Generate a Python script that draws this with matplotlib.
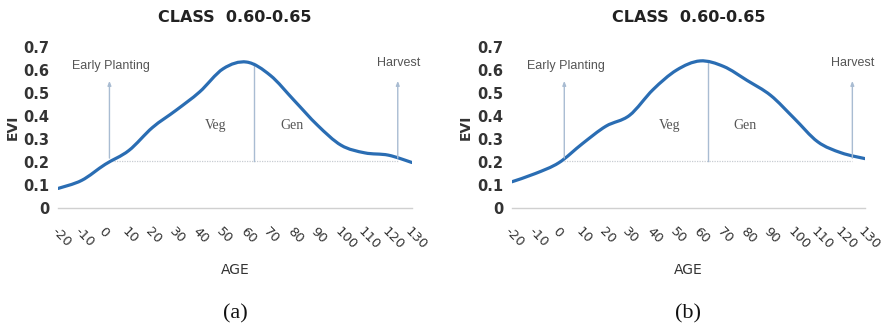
import numpy as np
import matplotlib.pyplot as plt
from matplotlib.path import Path
from matplotlib.patches import PathPatch

age = [-20, -10, 0, 10, 20, 30, 40, 50, 60, 70, 80, 90, 100, 110, 120, 130]
evi_a = [0.085, 0.12, 0.19, 0.25, 0.35, 0.425, 0.505, 0.606, 0.635, 0.577,
         0.469, 0.36, 0.273, 0.24, 0.23, 0.198]
evi_b = [0.114, 0.15, 0.197, 0.28, 0.356, 0.403, 0.515, 0.60, 0.64, 0.616,
         0.555, 0.49, 0.39, 0.288, 0.24, 0.215]
yticks = [0, 0.1, 0.2, 0.3, 0.4, 0.5, 0.6, 0.7]
ytick_labels = ['0', '0.1', '0.2', '0.3', '0.4', '0.5', '0.6', '0.7']

panels = ['(a)', '(b)']
title = 'CLASS  0.60-0.65'
planting_x = [1.8, 2.3]
harvest_x = [124, 124.7]
split_x = [63, 63.4]
base_y = 0.205
stage_y = 0.36
label_y = 0.62

blue = '#2a6db3'
guide = '#a9bcd2'


def smooth_path(x, y, t=0.5):
    # Excel style smoothed line: cubic bezier through every point
    x = np.asarray(x, float)
    y = np.asarray(y, float)
    px = np.concatenate([[x[0]], x, [x[-1]]])
    py = np.concatenate([[y[0]], y, [y[-1]]])
    verts = [(x[0], y[0])]
    codes = [Path.MOVETO]
    for i in range(1, len(x)):
        c1 = (px[i] + (px[i + 1] - px[i - 1]) * t / 3, py[i] + (py[i + 1] - py[i - 1]) * t / 3)
        c2 = (px[i + 1] - (px[i + 2] - px[i]) * t / 3, py[i + 1] - (py[i + 2] - py[i]) * t / 3)
        verts += [c1, c2, (x[i], y[i])]
        codes += [Path.CURVE4] * 3
    return Path(verts, codes)


fig = plt.figure(figsize=(8.87, 3.31), dpi=100)
boxes = [[0.0654, 0.3716, 0.399, 0.486], [0.577, 0.3716, 0.398, 0.486]]

for k, evi in enumerate([evi_a, evi_b]):
    ax = fig.add_axes(boxes[k])
    ax.add_patch(PathPatch(smooth_path(age, evi), facecolor='none', edgecolor=blue,
                           lw=2.3, capstyle='round', zorder=3))
    ax.set_xlim(-20, 130)
    ax.set_ylim(0, 0.7)

    # guides
    ax.plot([planting_x[k], harvest_x[k]], [base_y, base_y], color='#c8ccd2', lw=0.9,
            ls=(0, (1, 1)), zorder=1)
    ax.plot([split_x[k], split_x[k]], [base_y, max(evi) - 0.003], color=guide, lw=1.0, zorder=2)
    for xx in [planting_x[k], harvest_x[k]]:
        ax.annotate('', xy=(xx, 0.565), xytext=(xx, base_y),
                    arrowprops=dict(arrowstyle='-|>,head_length=0.25,head_width=0.1',
                                    color=guide, lw=1.0))
    ax.text(planting_x[k] + 0.5, label_y, 'Early Planting', ha='center', va='center',
            fontsize=9, color='#555555', family='Liberation Sans')
    ax.text(harvest_x[k] + 0.3, label_y + 0.01, 'Harvest', ha='center', va='center',
            fontsize=9, color='#555555', family='Liberation Sans')
    ax.text(47, stage_y, 'Veg', ha='center', va='center', fontsize=10,
            color='#555555', family='Liberation Serif')
    ax.text(79, stage_y, 'Gen', ha='center', va='center', fontsize=10,
            color='#555555', family='Liberation Serif')

    for s in ['top', 'right', 'left']:
        ax.spines[s].set_visible(False)
    ax.spines['bottom'].set_color('#d0d0d0')
    ax.spines['bottom'].set_linewidth(1.0)

    ax.set_xticks(age)
    ax.set_xticklabels([str(a) for a in age], rotation=-45, ha='left', rotation_mode='anchor',
                       fontsize=9.5, color='#333333')
    ax.set_yticks(yticks)
    ax.set_yticklabels(ytick_labels, fontsize=10.5, fontweight='bold', color='#333333')
    ax.tick_params(length=0, pad=6)
    ax.tick_params(axis='x', pad=12)

    ax.set_ylabel('EVI', fontsize=10, fontweight='bold', color='#333333', labelpad=3)
    ax.set_xlabel('AGE', fontsize=10, color='#333333', labelpad=8)
    ax.set_title(title, fontsize=11.5, fontweight='bold', color='#222222', pad=18)
    ax.text(0.5, -0.655, panels[k], transform=ax.transAxes, ha='center', va='center',
            fontsize=16, family='Liberation Serif', color='#111111')

fig.savefig('out.png', dpi=100)
